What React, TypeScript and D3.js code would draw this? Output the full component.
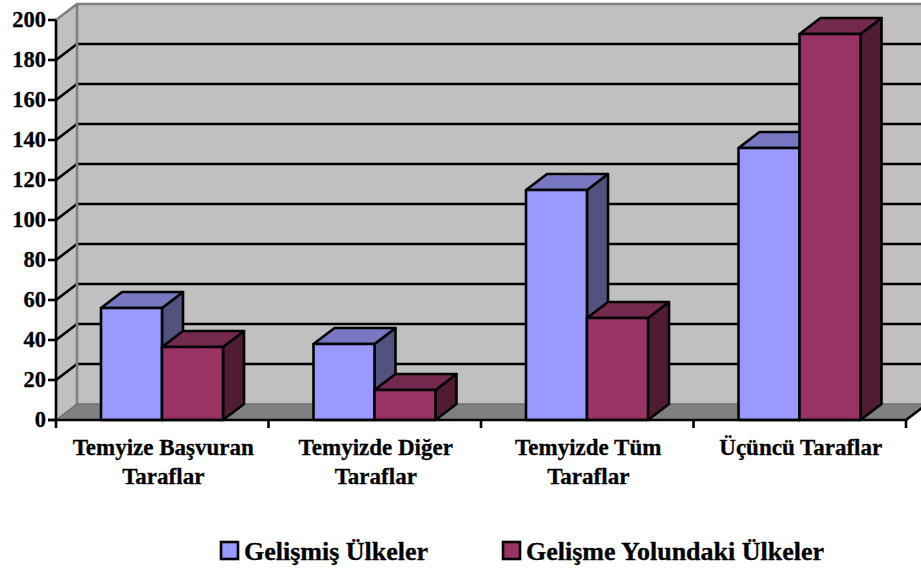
import React from "react";
import * as d3 from "d3";

const categories: string[][] = [
  ["Temyize Başvuran", "Taraflar"],
  ["Temyizde Diğer", "Taraflar"],
  ["Temyizde Tüm", "Taraflar"],
  ["Üçüncü Taraflar"],
];
const developed = [56, 38, 115, 136];
const developing = [36.5, 15, 51, 193];
const yTicks = [0, 20, 40, 60, 80, 100, 120, 140, 160, 180, 200];
const seriesNames = ["Gelişmiş Ülkeler", "Gelişme Yolundaki Ülkeler"];
const faceColors = ["#9999ff", "#993366"];
const topColors = ["#7777c2", "#742a4e"];
const sideColors = ["#52527f", "#4f1c33"];

const W = 921, H = 568;
const DX = 21, DY = -16;
const SW = 2.6;
const FONT = "'Liberation Serif', 'Times New Roman', serif";

const y = d3.scaleLinear().domain([0, 200]).range([420, 20]);
const x0 = d3.scaleBand<number>().domain([0, 1, 2, 3]).range([56, 906]);
const x1 = d3.scaleBand<number>().domain([0, 1]).range([45, 167]);
const poly = (p: number[][]) => p.map((q) => q.join(",")).join(" ");

export default function App() {
  const left = 56, right = 906, base = y(0), top = y(200);
  const series = [developed, developing];
  return (
    <svg width={W} height={H} style={{ position: "fixed", left: 0, top: 0, background: "#fff" }} fontFamily={FONT} fontWeight="bold" fill="#000">
      {/* walls */}
      <polygon points={poly([[left + DX, top + DY], [W + 5, top + DY], [W + 5, base + DY], [left + DX, base + DY]])} fill="#c0c0c0" />
      <polygon points={poly([[left, top], [left + DX, top + DY], [left + DX, base + DY], [left, base]])} fill="#c0c0c0" />
      <polygon points={poly([[left, base], [left + DX, base + DY], [right + DX, base + DY], [right, base]])} fill="#808080" />
      {/* gridlines */}
      {yTicks.filter((t) => t > 0 && t < 200).map((t) => (
        <g key={t} stroke="#000" strokeWidth={SW} fill="none">
          <polyline points={poly([[left, y(t)], [left + DX, y(t) + DY], [W + 5, y(t) + DY]])} />
        </g>
      ))}
      <polyline points={poly([[left, top], [left + DX, top + DY], [W + 5, top + DY]])} fill="none" stroke="#808080" strokeWidth={SW} />
      <line x1={left + DX} x2={left + DX} y1={top + DY} y2={base + DY} stroke="#808080" strokeWidth={SW} />
      <polyline points={poly([[left, base], [left + DX, base + DY], [W + 5, base + DY]])} fill="none" stroke="#6e6e6e" strokeWidth={1.5} />
      <line x1={right} y1={base} x2={right + DX} y2={base + DY} stroke="#000" strokeWidth={SW} />
      {/* bars */}
      {categories.map((_, c) =>
        series.map((vals, s) => {
          const xa = (x0(c) as number) + (x1(s) as number);
          const xb = xa + x1.bandwidth();
          const yt = y(vals[c]);
          return (
            <g key={`${c}-${s}`} stroke="#000" strokeWidth={SW} strokeLinejoin="round">
              <polygon points={poly([[xb, yt], [xb + DX, yt + DY], [xb + DX, base + DY], [xb, base]])} fill={sideColors[s]} />
              <polygon points={poly([[xa, yt], [xa + DX, yt + DY], [xb + DX, yt + DY], [xb, yt]])} fill={topColors[s]} />
              <rect x={xa} y={yt} width={xb - xa} height={base - yt} fill={faceColors[s]} />
            </g>
          );
        })
      )}
      {/* axes */}
      <line x1={left} x2={left} y1={top} y2={base} stroke="#000" strokeWidth={SW} />
      <line x1={left - 8} x2={right} y1={base} y2={base} stroke="#000" strokeWidth={SW} />
      {yTicks.map((t) => (
        <g key={t}>
          <line x1={left - 8} x2={left} y1={y(t)} y2={y(t)} stroke="#000" strokeWidth={SW} />
          <text x={left - 10} y={y(t) + 7} textAnchor="end" fontSize={22.5} stroke="#000" strokeWidth={0.3}>{t}</text>
        </g>
      ))}
      {[0, 1, 2, 3, 4].map((i) => {
        const tx = left + i * x0.step();
        return <line key={i} x1={tx} x2={tx} y1={base} y2={base + 8} stroke="#000" strokeWidth={SW} />;
      })}
      {categories.map((lines, c) => (
        <text key={c} textAnchor="middle" fontSize={23} stroke="#000" strokeWidth={0.3}>
          {lines.map((l, i) => (
            <tspan key={i} x={(x0(c) as number) + x0.bandwidth() / 2 + 1} y={455 + i * 29}>{l}</tspan>
          ))}
        </text>
      ))}
      {/* legend */}
      {seriesNames.map((n, s) => {
        const lx = [221, 503][s];
        return (
          <g key={n}>
            <rect x={lx} y={542} width={17} height={17} fill={faceColors[s]} stroke="#000" strokeWidth={SW} />
            <text x={lx + 23} y={560} fontSize={26} stroke="#000" strokeWidth={0.3}>{n}</text>
          </g>
        );
      })}
    </svg>
  );
}
